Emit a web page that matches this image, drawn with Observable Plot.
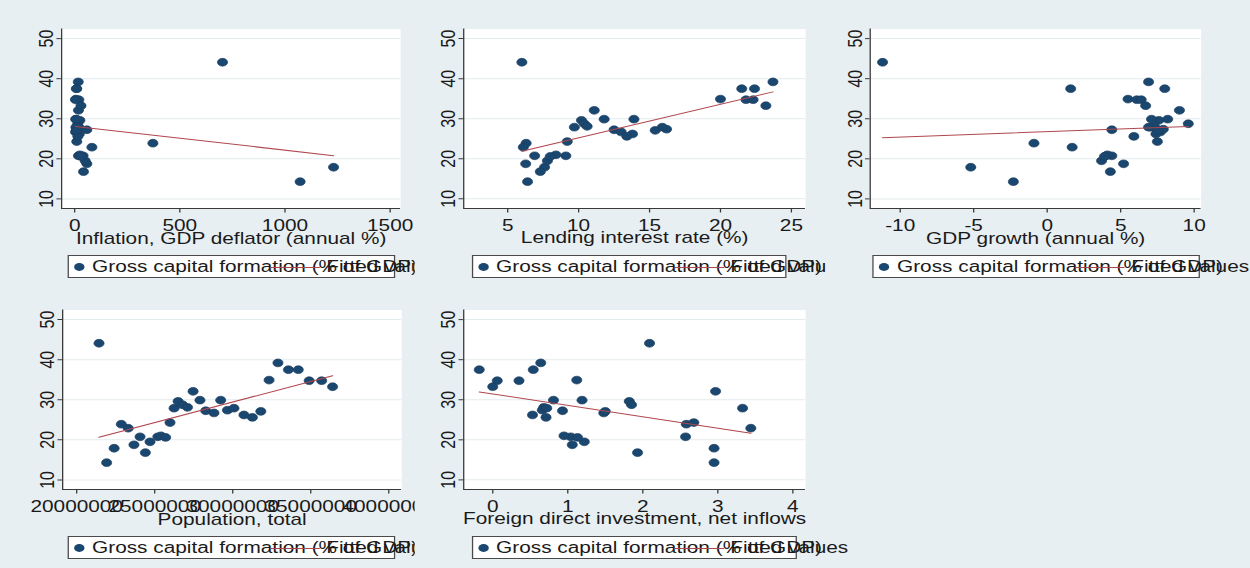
<!DOCTYPE html>
<html>
<head>
<meta charset="utf-8">
<script src="https://cdn.jsdelivr.net/npm/d3@7"></script>
<script src="https://cdn.jsdelivr.net/npm/@observablehq/plot@0.6"></script>
<style>
  html, body { margin: 0; padding: 0; background: #e8eff2; }
  #page { position: relative; width: 1250px; height: 568px; overflow: hidden; background: #e8eff2; }
  #inner { position: absolute; left: 0; top: 0; width: 962px; height: 568px; transform: scaleX(1.3); transform-origin: 0 0; }
  .cell { position: absolute; }
  .cell svg { position: absolute; left: 0; top: 0; overflow: visible; }
  .legend { position: absolute; height: 23px; background: #ffffff; border: 1px solid #4a4a4a; box-sizing: border-box;
            font-family: "Liberation Sans", Arial, sans-serif; font-size: 16px; color: #1a1a1a; white-space: nowrap; }
  .legend .key1 { position: absolute; top: 7px; width: 7.8px; height: 7.8px; border-radius: 50%; background: #1a476f; }
  .legend .lab { position: absolute; top: 2px; line-height: 18px; }
  .legend .key2 { position: absolute; top: 11px; height: 0; border-top: 1px solid #b0474e; }
</style>
</head>
<body>
<div id="page"><div id="inner"></div></div>
<script>
// Gross capital formation (% of GDP), one value per year (time order)
const gcf = [44.1, 14.3, 17.9, 23.9, 22.9, 18.75, 20.75, 16.8, 19.5, 20.75, 21.0, 20.6, 24.3, 27.9, 29.6, 28.75, 28.1,
             32.1, 29.9, 27.25, 26.7, 29.9, 27.4, 27.9, 26.2, 25.6, 27.1, 34.9, 39.2, 37.5, 37.5, 34.75, 34.75, 33.25];
// Inflation, GDP deflator (annual %)
const inflation = [703, 1072, 1231, 372, 82, 58, 18, 42, 50, 40, 25, 30, 10, 20, 25, 15, 12,
                   18, 5, 58, 4, 8, 10, 6, 22, 15, 9, 6, 17, 10, 8, 20, 4, 30];
// Lending interest rate (%)
const lending = [6.0, 6.4, 7.6, 6.3, 6.1, 6.27, 6.9, 7.3, 7.8, 9.1, 8.4, 8.0, 9.2, 9.7, 10.2, 10.4, 10.6,
                 11.1, 11.8, 12.5, 13.0, 13.9, 16.2, 15.9, 13.8, 13.4, 15.4, 20.0, 23.7, 21.5, 22.4, 21.8, 22.3, 23.2];
// GDP growth (annual %)
const gdpGrowth = [-11.2, -2.3, -5.2, -0.9, 1.7, 5.2, 4.4, 4.3, 3.7, 4.0, 4.1, 3.9, 7.5, 7.0, 7.6, 9.6, 7.3,
                   9.0, 7.1, 4.4, 7.7, 8.2, 7.9, 6.9, 7.4, 5.9, 7.5, 5.5, 6.9, 1.6, 8.0, 6.1, 6.4, 6.7];
// Population, total
const population = [21430000, 21920000, 22400000, 22860000, 23300000, 23670000, 24060000, 24400000, 24700000,
                    25200000, 25400000, 25700000, 25980000, 26240000, 26500000, 26780000, 27100000, 27460000,
                    27900000, 28270000, 28800000, 29230000, 29660000, 30080000, 30720000, 31260000, 31800000,
                    32330000, 32900000, 33570000, 34200000, 34900000, 35700000, 36400000];
// Foreign direct investment, net inflows
const fdi = [2.09, 2.95, 2.95, 2.58, 3.44, 1.06, 2.57, 1.93, 1.22, 1.04, 0.95, 1.13, 2.68, 3.33, 1.82, 1.85, 0.68,
             2.97, 0.81, 0.93, 1.48, 1.19, 0.66, 0.72, 0.53, 0.71, 1.5, 1.12, 0.64, 0.54, -0.18, 0.35, 0.06, 0.0];

// Tick labels
const yTicks = [10, 20, 30, 40, 50];
const inflationTicks = [0, 500, 1000, 1500];
const lendingTicks = [5, 10, 15, 20, 25];
const growthTicks = [-10, -5, 0, 5, 10];
const populationTicks = [20000000, 25000000, 30000000, 35000000, 40000000];
const fdiTicks = [0, 1, 2, 3, 4];

const seriesLabel = "Gross capital formation (% of GDP)";
const fitLabel = "Fitted values";

const yDomain = [7.6, 52.4];
const navy = "#1a476f";
const maroon = "#b0474e";

// clip: whether the next panel to the right hides this panel's overflow
const panels = [
  {left: 0,     top: 0,   w: 319,   h: 281, clip: true,  fl: 46.9, fr: 307.7, xs: inflation,  xDomain: [-62, 1550],          xTicks: inflationTicks,  xLabel: "Inflation, GDP deflator (annual %)",     legL: 52.3, legR: 303.8},
  {left: 319,   top: 0,   w: 315.6, h: 281, clip: true,  fl: 37.2, fr: 300.2, xs: lending,    xDomain: [1.9, 26.0],          xTicks: lendingTicks,    xLabel: "Lending interest rate (%)",              legL: 44.1, legR: 286.4},
  {left: 634.6, top: 0,   w: 328,   h: 281, clip: false, fl: 33.9, fr: 288.5, xs: gdpGrowth,  xDomain: [-12.04, 10.48],      xTicks: growthTicks,     xLabel: "GDP growth (annual %)",                  legL: 36.9, legR: 288.5},
  {left: 0,     top: 281, w: 319,   h: 287, clip: true,  fl: 47.7, fr: 308.5, xs: population, xDomain: [19100000, 40830000], xTicks: populationTicks, xLabel: "Population, total",                      legL: 52.3, legR: 303.8},
  {left: 319,   top: 281, w: 315.6, h: 287, clip: false, fl: 37.2, fr: 300.2, xs: fdi,        xDomain: [-0.387, 4.17],       xTicks: fdiTicks,        xLabel: "Foreign direct investment, net inflows", legL: 44.1, legR: 294.1}
];

const inner = document.getElementById("inner");
const frameTop = 28.5, frameBottom = 208, legendTop = 255;

for (const p of panels) {
  const cell = document.createElement("div");
  cell.className = "cell";
  cell.style.left = p.left + "px";
  cell.style.top = p.top + "px";
  cell.style.width = p.w + "px";
  cell.style.height = p.h + "px";
  cell.style.overflow = p.clip ? "hidden" : "visible";

  const data = gcf.map((g, i) => ({x: p.xs[i], y: g}));
  const fmt = d => String(d);

  const chart = Plot.plot({
    width: p.w,
    height: p.h,
    marginLeft: p.fl,
    marginRight: p.w - p.fr,
    marginTop: frameTop,
    marginBottom: p.h - frameBottom,
    style: {background: "transparent", fontFamily: "'Liberation Sans', Arial, sans-serif", fontSize: "16px", color: "#1a1a1a", overflow: "visible"},
    x: {domain: p.xDomain, label: null},
    y: {domain: yDomain, label: null},
    marks: [
      Plot.frame({fill: "white", stroke: "none"}),
      Plot.gridY(yTicks, {stroke: "#e3ebee", strokeOpacity: 1, strokeWidth: 1}),
      Plot.ruleY([yDomain[0]], {stroke: "#3a3a3a", strokeWidth: 1}),
      Plot.ruleX([p.xDomain[0]], {stroke: "#3a3a3a", strokeWidth: 1}),
      Plot.axisX({ticks: p.xTicks, tickFormat: fmt, tickSize: 4.5, tickPadding: 6.5, label: null, stroke: "#3a3a3a"}),
      Plot.axisY({ticks: yTicks, tickFormat: fmt, tickSize: 3.5, tickRotate: -90, tickPadding: 3, label: null, stroke: "#3a3a3a"}),
      Plot.dot(data, {x: "x", y: "y", r: 3.9, fill: navy, stroke: "#1d3d5f", strokeWidth: 0.6}),
      Plot.linearRegressionY(data, {x: "x", y: "y", stroke: maroon, strokeWidth: 1, ci: 0}),
      Plot.text([p.xLabel], {frameAnchor: "bottom", dy: 35, fill: "#1a1a1a", fontSize: 16})
    ]
  });
  cell.appendChild(chart);

  // Legend (Stata-style two-key legend squeezed into a narrow box)
  const leg = document.createElement("div");
  leg.className = "legend";
  leg.style.left = p.legL + "px";
  leg.style.top = legendTop + "px";
  leg.style.width = (p.legR - p.legL) + "px";
  leg.style.overflow = "visible";
  const k1 = document.createElement("span"); k1.className = "key1"; k1.style.left = "3.9px";
  const l1 = document.createElement("span"); l1.className = "lab"; l1.style.left = "17.5px"; l1.textContent = seriesLabel;
  const k2 = document.createElement("span"); k2.className = "key2"; k2.style.left = "155px"; k2.style.width = "38px";
  const l2 = document.createElement("span"); l2.className = "lab"; l2.style.left = "197.7px"; l2.textContent = fitLabel;
  leg.append(k1, l1, k2, l2);
  cell.appendChild(leg);

  inner.appendChild(cell);
}
</script>
</body>
</html>
